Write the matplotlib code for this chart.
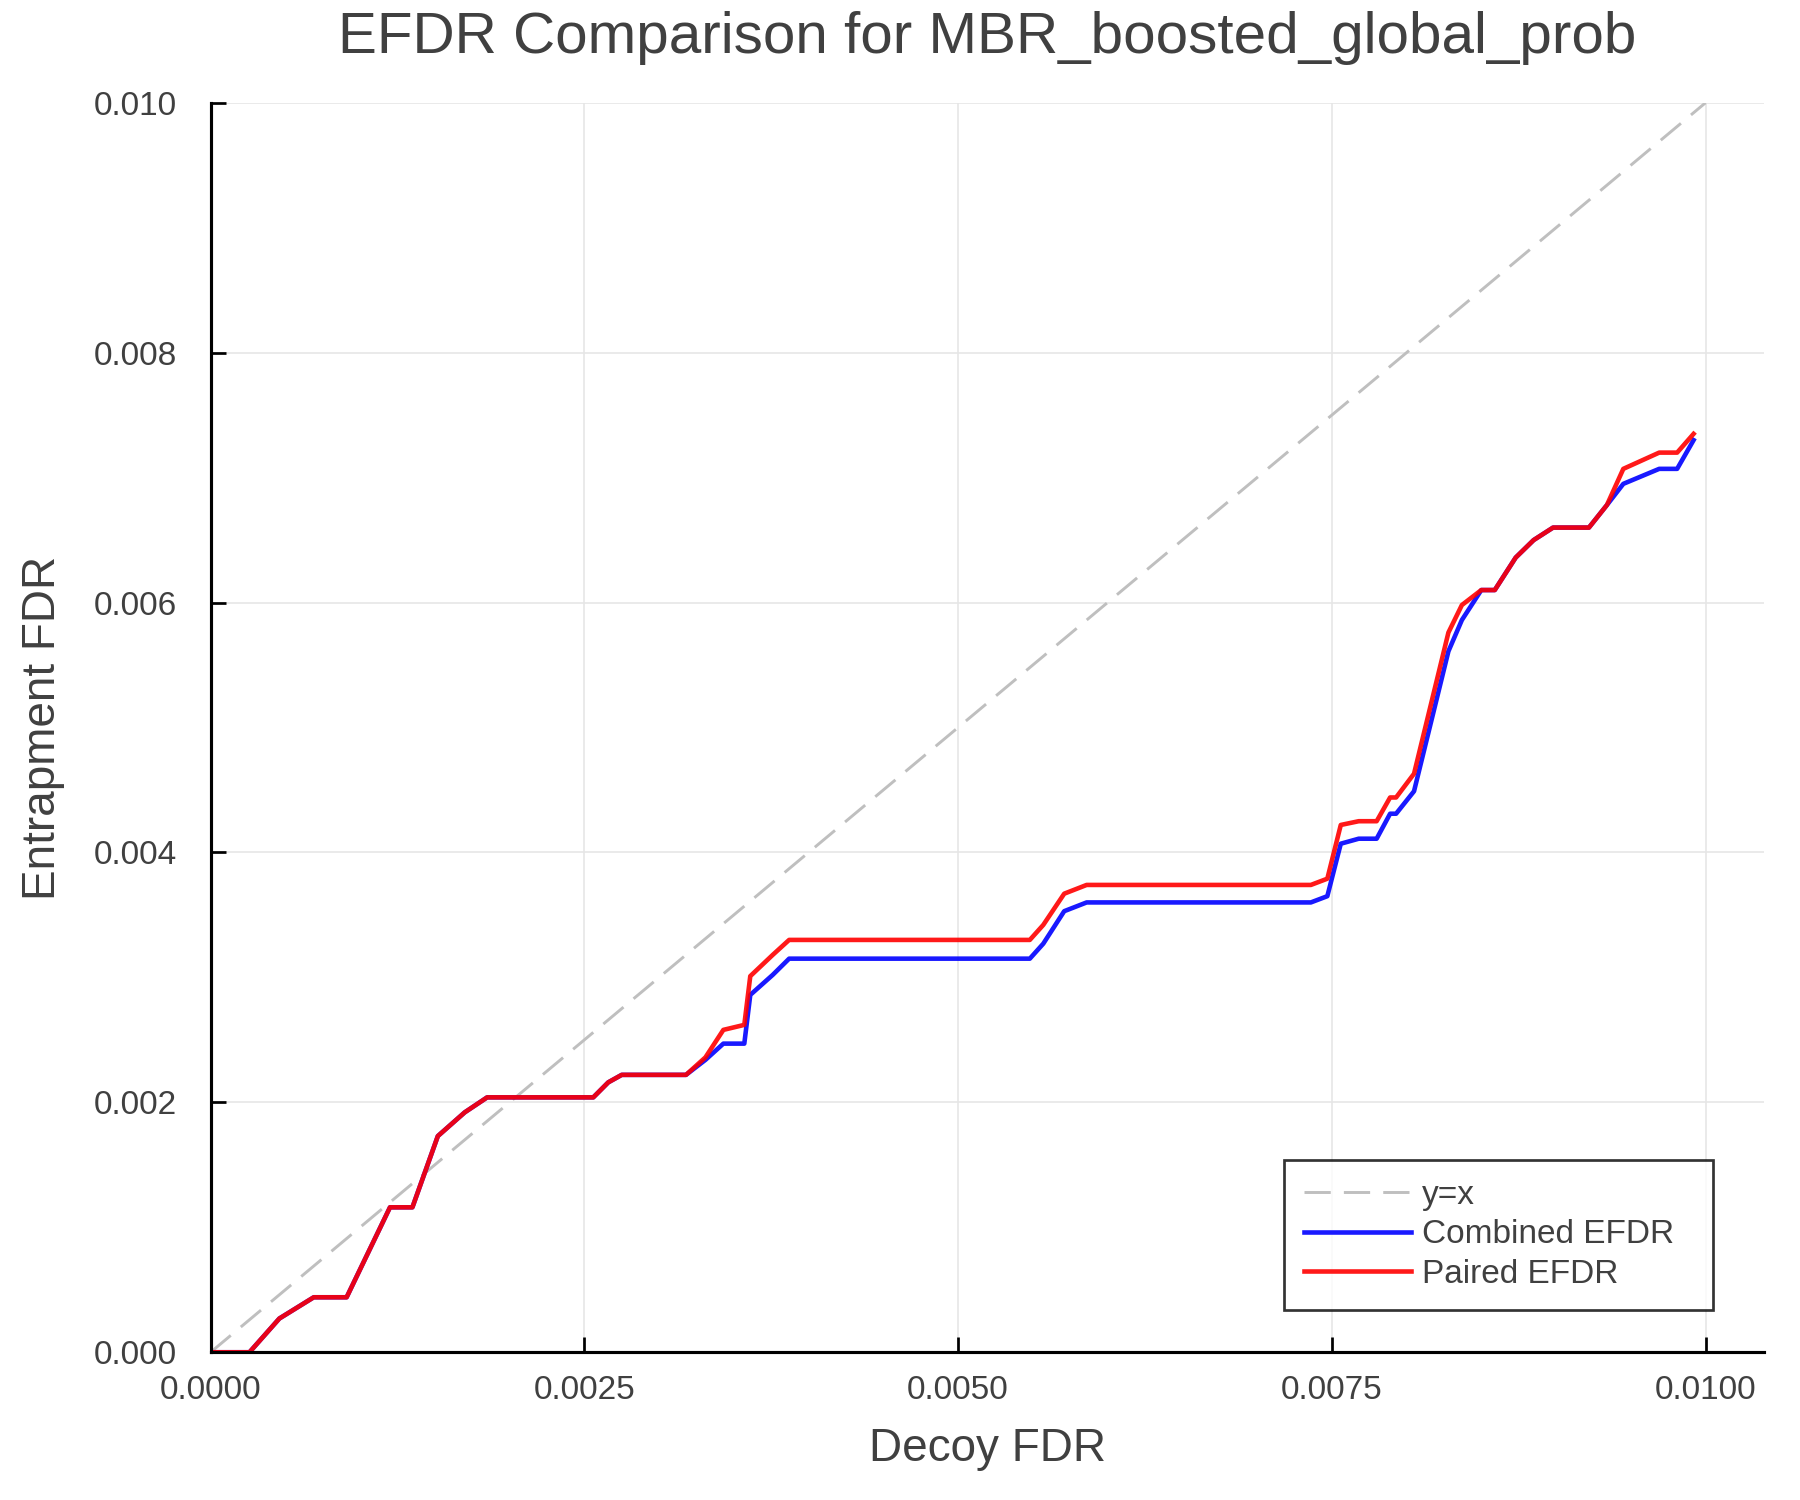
import matplotlib
matplotlib.use("Agg")
import matplotlib.pyplot as plt
import numpy as np

# decoy FDR thresholds (shared x for both curves)
decoy_fdr = [0.0, 0.00026, 0.00046, 0.00069, 0.00091, 0.00120, 0.00135, 0.00152,
             0.00170, 0.00185, 0.00256, 0.00266, 0.00275, 0.00318, 0.00331, 0.00343,
             0.00357, 0.00361, 0.00376, 0.00387, 0.00548, 0.00557, 0.00571, 0.00586,
             0.00736, 0.00747, 0.00756, 0.00768, 0.00780, 0.00789, 0.00793, 0.00805,
             0.00828, 0.00837, 0.00850, 0.00859, 0.00873, 0.00885, 0.00898, 0.00922,
             0.00934, 0.00945, 0.00969, 0.00981, 0.00992]

combined_efdr = [0.0, 0.0, 0.00027, 0.00044, 0.00044, 0.00116, 0.00116, 0.00173,
                 0.00192, 0.00204, 0.00204, 0.00216, 0.00222, 0.00222, 0.00234, 0.00247,
                 0.00247, 0.00286, 0.00302, 0.00315, 0.00315, 0.00327, 0.00353, 0.00360,
                 0.00360, 0.00365, 0.00407, 0.00411, 0.00411, 0.00431, 0.00431, 0.00449,
                 0.00561, 0.00586, 0.00610, 0.00610, 0.00636, 0.00650, 0.00660, 0.00660,
                 0.00678, 0.00695, 0.00707, 0.00707, 0.00730]

paired_efdr = [0.0, 0.0, 0.00027, 0.00044, 0.00044, 0.00116, 0.00116, 0.00173,
               0.00192, 0.00204, 0.00204, 0.00216, 0.00222, 0.00222, 0.00236, 0.00258,
               0.00262, 0.00301, 0.00318, 0.00330, 0.00330, 0.00342, 0.00367, 0.00374,
               0.00374, 0.00379, 0.00422, 0.00425, 0.00425, 0.00444, 0.00444, 0.00463,
               0.00576, 0.00598, 0.00610, 0.00610, 0.00636, 0.00650, 0.00660, 0.00660,
               0.00678, 0.00707, 0.00720, 0.00720, 0.00735]

xticks = [0.0, 0.0025, 0.005, 0.0075, 0.01]
yticks = [0.0, 0.002, 0.004, 0.006, 0.008, 0.010]

plt.rcParams['font.family'] = ['Liberation Sans', 'DejaVu Sans']
txt = '#404040'

fig = plt.figure(figsize=(12, 10), dpi=150)
ax = fig.add_axes([0.117, 0.0985, 0.863, 0.833])

ax.plot([0, 0.01], [0, 0.01], color='#bfbfbf', lw=1.4, dashes=(9, 4.5), label='y=x')
ax.plot(decoy_fdr, combined_efdr, color='blue', lw=2.2, alpha=0.9, label='Combined EFDR')
ax.plot(decoy_fdr, paired_efdr, color='red', lw=2.2, alpha=0.9, label='Paired EFDR')

ax.set_xlim(0, 0.010391)
ax.set_ylim(0, 0.01)
ax.set_xticks(xticks)
ax.set_xticklabels(['%.4f' % v for v in xticks])
ax.set_yticks(yticks)
ax.set_yticklabels(['%.3f' % v for v in yticks])
ax.grid(True, color='#e6e6e6', lw=0.8)
ax.set_axisbelow(True)

for s in ['top', 'right']:
    ax.spines[s].set_visible(False)
for s in ['left', 'bottom']:
    ax.spines[s].set_linewidth(1.5)
ax.tick_params(direction='in', length=7, width=1.3, labelsize=16, labelcolor=txt)
ax.tick_params(axis='y', pad=16)
ax.tick_params(axis='x', pad=11)

ax.set_xlabel('Decoy FDR', fontsize=22, color=txt, labelpad=10)
ax.set_ylabel('Entrapment FDR', fontsize=22, color=txt, labelpad=14)
ax.set_title('EFDR Comparison for MBR_boosted_global_prob', fontsize=28, color=txt, pad=24)

leg = ax.legend(loc='lower left', bbox_to_anchor=(0.691, 0.034, 0.276, 0.121), mode='expand',
                fontsize=16, frameon=True, fancybox=False, edgecolor='black',
                handlelength=3.2, handletextpad=0.35, labelspacing=0.25, borderpad=0.6,
                borderaxespad=0)
leg.get_frame().set_linewidth(1.3)
for t in leg.get_texts():
    t.set_color(txt)

fig.savefig('out.png', dpi=150)
